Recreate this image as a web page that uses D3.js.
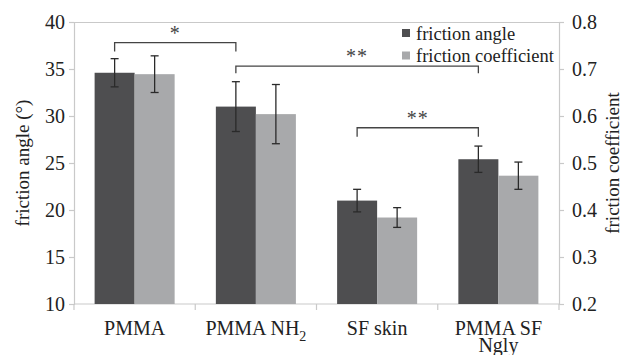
<!DOCTYPE html>
<html>
<head>
<meta charset="utf-8">
<script src="https://cdn.jsdelivr.net/npm/d3@7"></script>
<style>
  body { margin: 0; background: #fff; }
  svg, svg text { font-family: 'Liberation Serif', 'Times New Roman', serif; }
</style>
</head>
<body>
<div id="wrapper"></div>
<script>
// data
const categories = ['PMMA', 'PMMA NH2', 'SF skin', 'PMMA SF Ngly']
const angleMean = [34.6, 31.0, 21.0, 25.4]
const angleErr = [1.5, 2.65, 1.2, 1.4]
const coefMean = [0.689, 0.604, 0.384, 0.473]
const coefErr = [0.039, 0.063, 0.021, 0.029]
const leftTicks = [10, 15, 20, 25, 30, 35, 40]
const rightTicks = [0.2, 0.3, 0.4, 0.5, 0.6, 0.7, 0.8]
const seriesNames = ['friction angle', 'friction coefficient']
// significance brackets: from/to category index, bracket level and tick foot (degrees)
const brackets = [
  { from: 0, to: 1, level: 37.8, foot: 36.85, label: '*' },
  { from: 1, to: 3, level: 35.3, foot: 34.55, label: '**' },
  { from: 2, to: 3, level: 28.75, foot: 27.8, label: '**' },
]

const dimensions = {
  width: 623,
  height: 355,
  margin: { top: 22, right: 64, bottom: 51, left: 74 },
}
dimensions.boundedWidth = dimensions.width - dimensions.margin.left - dimensions.margin.right
dimensions.boundedHeight = dimensions.height - dimensions.margin.top - dimensions.margin.bottom

const colors = ['#4e4e50', '#a8a9ab']
const axisColor = '#c9c9c9'
const serif = "'Liberation Serif', 'Times New Roman', serif"

const svg = d3.select('#wrapper').append('svg')
  .attr('width', dimensions.width)
  .attr('height', dimensions.height)
  .attr('font-family', serif)

const bounds = svg.append('g')
  .attr('transform', `translate(${dimensions.margin.left},${dimensions.margin.top})`)

// scales
const xScale = d3.scaleBand()
  .domain(d3.range(categories.length))
  .range([0, dimensions.boundedWidth])
  .paddingInner(0.34)
  .paddingOuter(0.17)

const bandStep = xScale.step()
const barW = xScale.bandwidth() / 2

const yLeft = d3.scaleLinear().domain([10, 40]).range([dimensions.boundedHeight, 0])
const yRight = d3.scaleLinear().domain([0.2, 0.8]).range([dimensions.boundedHeight, 0])

// frame: top line
bounds.append('line')
  .attr('x1', 0).attr('x2', dimensions.boundedWidth)
  .attr('y1', 0.5).attr('y2', 0.5)
  .attr('stroke', axisColor)

// axes
const leftAxis = bounds.append('g')
  .call(d3.axisLeft(yLeft).tickValues(leftTicks).tickSize(5).tickPadding(4))
const rightAxis = bounds.append('g')
  .attr('transform', `translate(${dimensions.boundedWidth},0)`)
  .call(d3.axisRight(yRight).tickValues(rightTicks).tickSize(5).tickPadding(8).tickFormat(d3.format('.1f')))
const bottomAxis = bounds.append('g')
  .attr('transform', `translate(0,${dimensions.boundedHeight})`)
  .call(d3.axisBottom(xScale).tickSize(0).tickFormat(''))

for (const ax of [leftAxis, rightAxis, bottomAxis]) {
  ax.attr('font-family', serif).attr('font-size', 20)
  ax.select('.domain').attr('stroke', axisColor).attr('stroke-width', 1.2)
  ax.selectAll('.tick line').attr('stroke', axisColor).attr('stroke-width', 1.2)
  ax.selectAll('.tick text').attr('fill', '#222')
}
bottomAxis.select('.domain').attr('d', `M0,0H${dimensions.boundedWidth}`)

// category separator ticks on x axis
bounds.append('g')
  .selectAll('line')
  .data(d3.range(categories.length + 1))
  .join('line')
  .attr('x1', (i) => i * bandStep).attr('x2', (i) => i * bandStep)
  .attr('y1', dimensions.boundedHeight)
  .attr('y2', dimensions.boundedHeight + 6)
  .attr('stroke', axisColor).attr('stroke-width', 1.2)

// category labels
const catLabels = bounds.append('g')
  .selectAll('text')
  .data(categories)
  .join('text')
  .attr('text-anchor', 'middle')
  .attr('fill', '#222')
  .attr('font-size', 20)
  .attr('transform', (d, i) => `translate(${xScale(i) + xScale.bandwidth() / 2},${dimensions.boundedHeight + 31})`)

catLabels.each(function (d) {
  const t = d3.select(this)
  if (d === 'PMMA NH2') {
    t.append('tspan').text('PMMA NH')
    t.append('tspan').attr('dy', 6).attr('font-size', 14).text('2')
  } else if (d === 'PMMA SF Ngly') {
    t.append('tspan').attr('x', 0).text('PMMA SF')
    t.append('tspan').attr('x', 0).attr('dy', 17).text('Ngly')
  } else {
    t.text(d)
  }
})

// bars
const barData = categories.map((c, i) => [
  { i, s: 0, y: yLeft(angleMean[i]), lo: yLeft(angleMean[i] - angleErr[i]), hi: yLeft(angleMean[i] + angleErr[i]) },
  { i, s: 1, y: yRight(coefMean[i]), lo: yRight(coefMean[i] - coefErr[i]), hi: yRight(coefMean[i] + coefErr[i]) },
]).flat()

bounds.append('g')
  .selectAll('rect')
  .data(barData)
  .join('rect')
  .attr('x', (d) => xScale(d.i) + d.s * barW)
  .attr('width', barW)
  .attr('y', (d) => d.y)
  .attr('height', (d) => dimensions.boundedHeight - d.y)
  .attr('fill', (d) => colors[d.s])

// error bars
const errG = bounds.append('g').attr('stroke', '#2a2a2a').attr('stroke-width', 1.3)
barData.forEach((d) => {
  const cx = xScale(d.i) + d.s * barW + barW / 2
  errG.append('line').attr('x1', cx).attr('x2', cx).attr('y1', d.lo).attr('y2', d.hi)
  errG.append('line').attr('x1', cx - 4).attr('x2', cx + 4).attr('y1', d.lo).attr('y2', d.lo)
  errG.append('line').attr('x1', cx - 4).attr('x2', cx + 4).attr('y1', d.hi).attr('y2', d.hi)
})

// significance brackets
const darkCenter = (i) => xScale(i) + barW / 2
const brG = bounds.append('g')
brackets.forEach((b) => {
  const x1 = darkCenter(b.from)
  const x2 = darkCenter(b.to)
  const y = yLeft(b.level)
  const yf = yLeft(b.foot)
  brG.append('path')
    .attr('d', `M${x1},${yf}V${y}H${x2}V${yf}`)
    .attr('fill', 'none')
    .attr('stroke', '#444')
    .attr('stroke-width', 1.3)
  brG.append('text')
    .attr('x', (x1 + x2) / 2)
    .attr('y', y - 3)
    .attr('text-anchor', 'middle')
    .attr('fill', '#444')
    .attr('font-size', 20)
    .style('letter-spacing', '1px')
    .text(b.label)
})

// legend
const legend = svg.append('g').attr('transform', 'translate(402,0)')
seriesNames.forEach((name, i) => {
  legend.append('rect')
    .attr('x', 0).attr('y', 29 + i * 22.5)
    .attr('width', 8).attr('height', 8)
    .attr('fill', colors[i])
  legend.append('text')
    .attr('x', 14).attr('y', 39.5 + i * 22.5)
    .attr('fill', '#222')
    .attr('font-size', 18.5)
    .text(name)
})

// axis titles
svg.append('text')
  .attr('transform', `translate(29,${dimensions.margin.top + dimensions.boundedHeight / 2}) rotate(-90)`)
  .attr('text-anchor', 'middle')
  .attr('fill', '#222')
  .attr('font-size', 19)
  .text('friction angle (°)')

svg.append('text')
  .attr('transform', `translate(619,${dimensions.margin.top + dimensions.boundedHeight / 2}) rotate(-90)`)
  .attr('text-anchor', 'middle')
  .attr('fill', '#222')
  .attr('font-size', 19)
  .text('friction coefficient')
</script>
</body>
</html>
